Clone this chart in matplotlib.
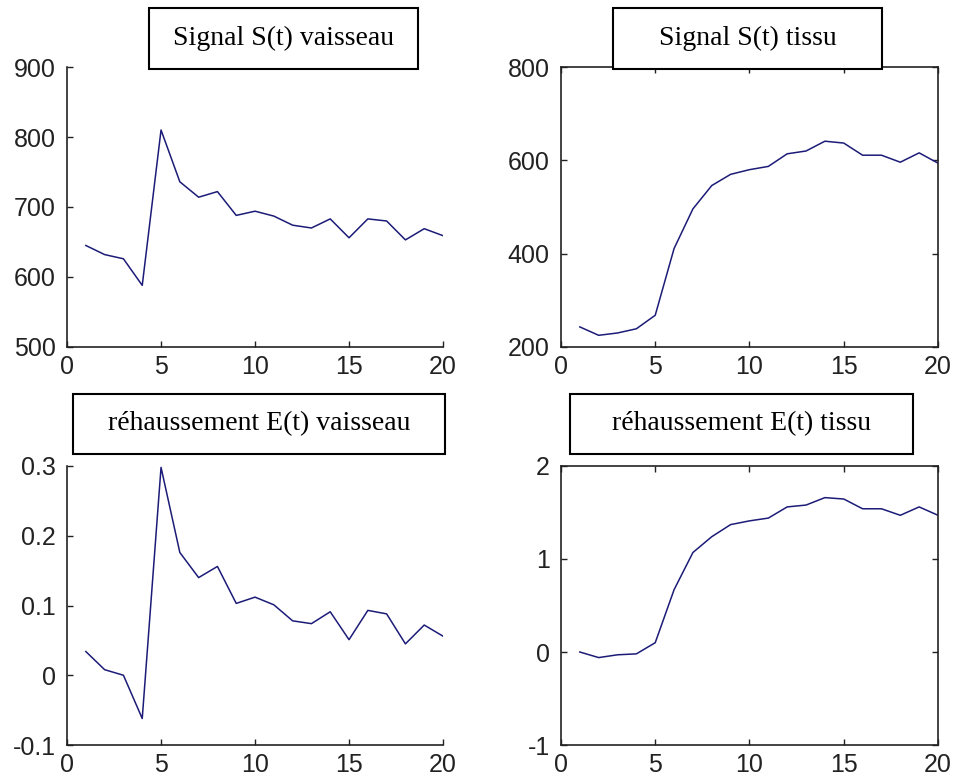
import matplotlib
matplotlib.use('Agg')
import matplotlib.pyplot as plt
from matplotlib.patches import Rectangle

# time samples
t = list(range(1, 21))

# signal in the vessel
s_vessel = [645, 632, 626, 588, 810, 736, 714, 722, 688, 694,
            687, 674, 670, 683, 656, 683, 680, 653, 669, 659]
# signal in the tissue
s_tissue = [243, 225, 230, 239, 268, 411, 496, 546, 570, 580,
            587, 614, 620, 641, 637, 611, 611, 596, 616, 594]
# enhancement in the vessel
e_vessel = [0.034, 0.008, 0.000, -0.062, 0.298, 0.176, 0.140, 0.156, 0.103, 0.112,
            0.101, 0.078, 0.074, 0.091, 0.051, 0.093, 0.088, 0.045, 0.072, 0.056]
# enhancement in the tissue
e_tissue = [0.00, -0.06, -0.03, -0.02, 0.10, 0.67, 1.07, 1.24, 1.37, 1.41,
            1.44, 1.56, 1.58, 1.66, 1.645, 1.54, 1.54, 1.47, 1.56, 1.47]

titles = ['Signal S(t) vaisseau', 'Signal S(t) tissu',
          'réhaussement E(t) vaisseau', 'réhaussement E(t) tissu']

line_color = '#1c1c78'
tick_font = 'Liberation Sans'

fig = plt.figure(figsize=(9.55, 7.82), dpi=100)
fig.patch.set_facecolor('white')

# axes rectangles in figure fractions
ax_tl = fig.add_axes([0.0702, 0.5563, 0.3937, 0.358])
ax_tr = fig.add_axes([0.5874, 0.5563, 0.3948, 0.358])
ax_bl = fig.add_axes([0.0702, 0.0473, 0.3937, 0.3568])
ax_br = fig.add_axes([0.5874, 0.0473, 0.3948, 0.3568])

panels = [
    (ax_tl, s_vessel, (500, 900), [500, 600, 700, 800, 900], ['500', '600', '700', '800', '900'], False),
    (ax_tr, s_tissue, (200, 800), [200, 400, 600, 800], ['200', '400', '600', '800'], True),
    (ax_bl, e_vessel, (-0.1, 0.3), [-0.1, 0, 0.1, 0.2, 0.3], ['-0.1', '0', '0.1', '0.2', '0.3'], False),
    (ax_br, e_tissue, (-1, 2), [-1, 0, 1, 2], ['-1', '0', '1', '2'], True),
]

for ax, y, ylim, yt, ytl, boxed in panels:
    ax.plot(t, y, color=line_color, linewidth=1.1)
    ax.set_xlim(0, 20)
    ax.set_ylim(*ylim)
    ax.set_xticks([0, 5, 10, 15, 20])
    ax.set_xticklabels(['0', '5', '10', '15', '20'])
    ax.set_yticks(yt)
    ax.set_yticklabels(ytl)
    for sp in ax.spines.values():
        sp.set_linewidth(1.2)
        sp.set_color('#222222')
    if boxed:
        ax.tick_params(top=True, right=True)
    else:
        ax.spines['top'].set_visible(False)
        ax.spines['right'].set_visible(False)
    ax.tick_params(axis='both', direction='in', length=4, width=1, color='#222222',
                   labelsize=18, labelcolor='#222222')
    ax.tick_params(axis='y', pad=8)
    ax.tick_params(axis='x', pad=6)
    for lab in ax.get_xticklabels() + ax.get_yticklabels():
        lab.set_family(tick_font)

# title boxes drawn in figure coordinates
boxes = [
    (0.156, 0.9118, 0.2817, 0.078),
    (0.6419, 0.9118, 0.2817, 0.078),
    (0.0764, 0.4194, 0.3895, 0.0767),
    (0.5969, 0.4194, 0.3592, 0.0767),
]
for (x0, y0, w, h), title in zip(boxes, titles):
    fig.patches.append(Rectangle((x0, y0), w, h, transform=fig.transFigure,
                                 facecolor='white', edgecolor='black',
                                 linewidth=1.5, zorder=5))
    fig.text(x0 + w / 2, y0 + h / 2, title, ha='center', va='center',
             fontsize=20, family='Liberation Serif', zorder=6)

fig.savefig('out.png', dpi=100, facecolor='white')
